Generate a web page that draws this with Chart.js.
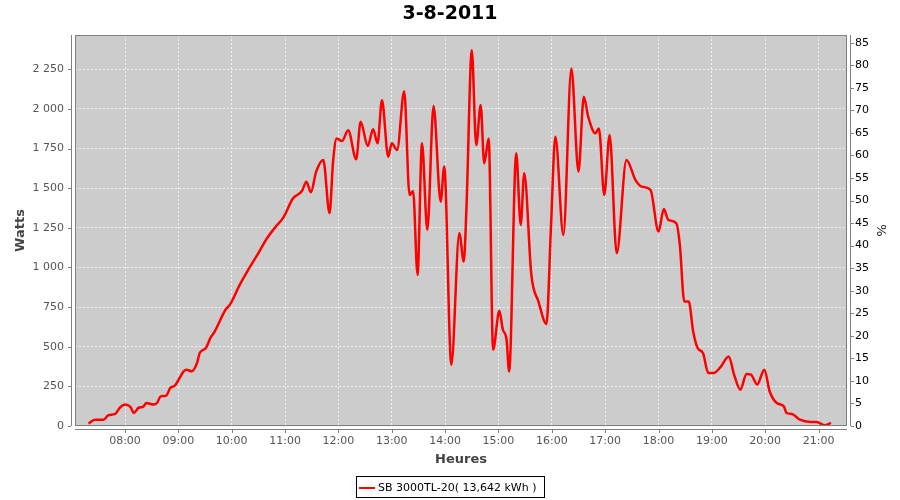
<!DOCTYPE html>
<html><head><meta charset="utf-8">
<script src="https://cdn.jsdelivr.net/npm/chart.js@4.4.1/dist/chart.umd.min.js"></script>
<style>html,body{margin:0;padding:0;background:#fff}</style>
</head><body>
<canvas id="c" width="900" height="500"></canvas>
<script>
const chartTitle = '3-8-2011';
const seriesLabel = 'SB 3000TL-20( 13,642 kWh )';
const xTitle = 'Heures';
const yTitle = 'Watts';
const y2Title = '%';

const times = ['07:19','07:26','07:36','07:41','07:49','07:54','08:00','08:06','08:10','08:15','08:21','08:24','08:32','08:36','08:40','08:46','08:51','08:56','09:06','09:09','09:15','09:21','09:24','09:31','09:36','09:41','09:53','09:58','10:09','10:19','10:30','10:39','10:49','10:58','11:09','11:19','11:24','11:29','11:35','11:43','11:50','11:54','11:58','12:04','12:11','12:20','12:25','12:33','12:39','12:44','12:49','12:56','13:00','13:06','13:14','13:20','13:24','13:29','13:34','13:40','13:47','13:55','13:59','14:07','14:16','14:21','14:24','14:30','14:35','14:40','14:44','14:49','14:54','15:01','15:05','15:09','15:12','15:20','15:25','15:29','15:37','15:45','15:54','15:59','16:04','16:13','16:22','16:30','16:36','16:41','16:49','16:53','16:59','17:05','17:13','17:24','17:34','17:41','17:51','18:00','18:06','18:11','18:20','18:24','18:29','18:34','18:39','18:44','18:50','18:56','19:02','19:09','19:19','19:25','19:32','19:39','19:44','19:51','19:59','20:05','20:13','20:21','20:24','20:30','20:39','20:51','20:58','21:07','21:14'];
const watts = [15,40,40,67,76,114,135,120,82,114,124,145,135,145,187,191,240,254,345,355,345,397,460,492,555,597,733,765,890,989,1090,1178,1254,1314,1436,1482,1541,1474,1604,1678,1342,1667,1814,1797,1866,1682,1919,1766,1871,1783,2055,1698,1783,1741,2112,1457,1482,953,1783,1237,2018,1415,1636,387,1216,1037,1373,2370,1772,2024,1657,1814,481,727,607,550,344,1720,1268,1594,953,785,643,1247,1824,1205,2255,1604,2076,1950,1846,1877,1457,1835,1090,1678,1552,1510,1489,1226,1369,1300,1279,1142,785,785,596,492,460,334,334,366,439,324,229,328,324,261,355,219,145,124,82,76,40,26,26,4,20];

const hourTicks = ['08:00','09:00','10:00','11:00','12:00','13:00','14:00','15:00','16:00','17:00','18:00','19:00','20:00','21:00'];
const wattTicks = [0,250,500,750,1000,1250,1500,1750,2000,2250];
const pctTicks = [0,5,10,15,20,25,30,35,40,45,50,55,60,65,70,75,80,85];

const toMin = s => { const p = s.split(':'); return (+p[0]) * 60 + (+p[1]); };
const fmtThousands = v => String(v).replace(/\B(?=(\d{3})+(?!\d))/g, ' ');

const FONT = '"DejaVu Sans", sans-serif';

const bgPlugin = {
  id: 'bg',
  beforeDraw(chart) {
    const {ctx, chartArea: a} = chart;
    ctx.save();
    ctx.fillStyle = '#cccccc';
    ctx.fillRect(a.left, a.top, a.right - a.left, a.bottom - a.top);
    ctx.restore();
  },
  afterDraw(chart) {
    const {ctx, chartArea: a} = chart;
    const L = Math.round(a.left), R = Math.round(a.right), T = Math.round(a.top), B = Math.round(a.bottom);
    ctx.save();
    ctx.lineWidth = 1;
    // plot outline
    ctx.strokeStyle = '#808080';
    ctx.strokeRect(L + 0.5, T + 0.5, R - L - 1, B - T - 1);
    // axis lines offset
    ctx.strokeStyle = '#808080';
    ctx.beginPath();
    ctx.moveTo(L - 4 + 0.5, T); ctx.lineTo(L - 4 + 0.5, B);
    ctx.moveTo(R + 3 + 0.5, T); ctx.lineTo(R + 3 + 0.5, B);
    ctx.moveTo(L, B + 3 + 0.5); ctx.lineTo(R, B + 3 + 0.5);
    ctx.stroke();
    // tick marks
    ctx.beginPath();
    const ys = chart.scales.y, y2s = chart.scales.y2, xs = chart.scales.x;
    wattTicks.forEach(v => { const p = Math.round(ys.getPixelForValue(v)) + 0.5; ctx.moveTo(L - 7, p); ctx.lineTo(L - 4, p); });
    pctTicks.forEach(v => { const p = Math.round(y2s.getPixelForValue(v)) + 0.5; ctx.moveTo(R + 4, p); ctx.lineTo(R + 7, p); });
    hourTicks.forEach(s => { const p = Math.round(xs.getPixelForValue(toMin(s))) + 0.5; ctx.moveTo(p, B + 4); ctx.lineTo(p, B + 7); });
    ctx.stroke();
    // legend
    ctx.font = '11px ' + FONT;
    const tw = ctx.measureText(seriesLabel).width;
    const bw = Math.round(3 + 16 + 3 + tw + 9);
    const bx = Math.round(450.5 - bw / 2), by = 476, bh = 22;
    ctx.fillStyle = '#ffffff';
    ctx.fillRect(bx, by, bw, bh);
    ctx.strokeStyle = '#000000';
    ctx.strokeRect(bx + 0.5, by + 0.5, bw - 1, bh - 1);
    ctx.strokeStyle = '#ff0000';
    ctx.lineWidth = 2;
    ctx.beginPath(); ctx.moveTo(bx + 3, by + 12); ctx.lineTo(bx + 19, by + 12); ctx.stroke();
    ctx.fillStyle = '#000000';
    ctx.textBaseline = 'middle';
    ctx.textAlign = 'left';
    ctx.fillText(seriesLabel, bx + 22, by + 12);
    ctx.restore();
  }
};

new Chart(document.getElementById('c'), {
  type: 'line',
  data: {
    datasets: [{
      label: seriesLabel,
      data: times.map((t, i) => ({x: toMin(t), y: watts[i]})),
      borderColor: '#ff0000',
      backgroundColor: '#ff0000',
      borderWidth: 2.5,
      pointRadius: 0,
      cubicInterpolationMode: 'monotone',
      yAxisID: 'y'
    }]
  },
  options: {
    responsive: false,
    animation: false,
    devicePixelRatio: 1,
    layout: {padding: 0},
    plugins: {
      legend: {display: false},
      tooltip: {enabled: false},
      title: {
        display: true, text: chartTitle, color: '#000',
        font: {family: FONT, size: 19, weight: 'bold', lineHeight: '24px'},
        padding: {top: 2, bottom: 9}
      }
    },
    scales: {
      x: {
        type: 'linear', position: 'bottom', min: 423.75, max: 1292,
        afterBuildTicks: s => { s.ticks = hourTicks.map(h => ({value: toMin(h)})); },
        afterFit: s => { s.height = 74; },
        ticks: {
          autoSkip: false, maxRotation: 0, minRotation: 0, padding: 9,
          color: '#555', font: {family: FONT, size: 11},
          callback: (v, i) => hourTicks[i]
        },
        grid: {color: '#f0f0f0', lineWidth: 1, drawTicks: false},
        border: {display: false, dash: [2, 2]},
        title: {display: true, text: xTitle, color: '#444', font: {family: FONT, size: 13, weight: 'bold', lineHeight: '16px'}, padding: {top: 0, bottom: 32}}
      },
      y: {
        type: 'linear', position: 'left', min: 0, max: 2466,
        afterBuildTicks: s => { s.ticks = wattTicks.map(v => ({value: v})); },
        afterFit: s => { s.width = 75; },
        ticks: {padding: 11, color: '#555', font: {family: FONT, size: 11}, callback: (v, i) => fmtThousands(wattTicks[i])},
        grid: {color: '#f0f0f0', lineWidth: 1, drawTicks: false},
        border: {display: false, dash: [2, 2]},
        title: {display: true, text: yTitle, color: '#444', font: {family: FONT, size: 13, weight: 'bold', lineHeight: '16px'}, padding: {top: 13, bottom: 0}}
      },
      y2: {
        type: 'linear', position: 'right', min: 0, max: 86.7,
        afterBuildTicks: s => { s.ticks = pctTicks.map(v => ({value: v})); },
        afterFit: s => { s.width = 53; },
        ticks: {padding: 8, color: '#000', font: {family: FONT, size: 11}, callback: (v, i) => String(pctTicks[i])},
        grid: {display: false, drawTicks: false},
        border: {display: false},
        title: {display: true, text: y2Title, color: '#222', font: {family: FONT, size: 13, lineHeight: '16px'}, padding: {top: 12, bottom: 0}}
      }
    }
  },
  plugins: [bgPlugin]
});
</script>
</body></html>
